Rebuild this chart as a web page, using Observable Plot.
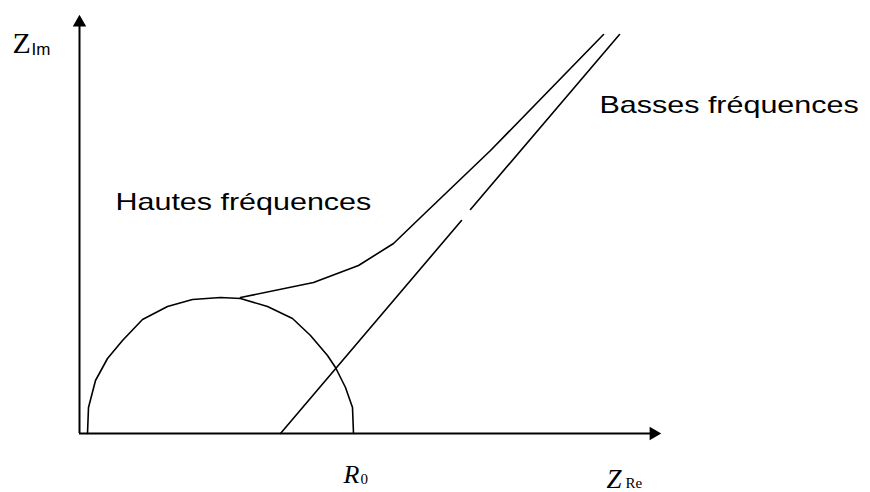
<!DOCTYPE html>
<html>
<head>
<meta charset="utf-8">
<script src="https://cdn.jsdelivr.net/npm/d3@7"></script>
<script src="https://cdn.jsdelivr.net/npm/@observablehq/plot@0.6"></script>
<style>
  html, body { margin: 0; padding: 0; background: #fff; }
  svg { display: block; }
</style>
</head>
<body>
<div id="chart"></div>
<script>
// Semicircle (high-frequency arc), vertices
const semiX = [8, 9, 16, 28, 43, 63, 88, 113, 141, 161, 188, 213, 231, 248, 256, 266, 273, 274];
const semiY = [0, 26, 53, 75, 93, 114, 127, 134, 136, 135, 127, 115, 98, 78, 66, 46, 26, 0];
// Curve leaving the arc toward the low-frequency asymptote
const hfX = [161, 234, 279, 314, 341, 411, 524];
const hfY = [136, 151, 168, 190, 216, 283, 399];
// Straight low-frequency line (with the small break seen in the scan)
const bfX = [201, 382, 391, 540];
const bfY = [0, 213, 224, 399];
const bfSeg = [0, 0, 1, 1];
// Axis extents
const xAxisEnd = 581;
const yAxisEnd = 418;
// Annotations
const bigLabels = ["Hautes fréquences", "Basses fréquences"];
const bigX = [36, 520];
const bigY = [224, 321];

const semi = semiX.map((x, i) => ({x, y: semiY[i]}));
const hf = hfX.map((x, i) => ({x, y: hfY[i]}));
const bf = bfX.map((x, i) => ({x, y: bfY[i], s: bfSeg[i]}));
const big = bigLabels.map((t, i) => ({t, x: bigX[i], y: bigY[i]}));

const sw = 1.6;
const plot = Plot.plot({
  width: 870,
  height: 492,
  marginLeft: 79,
  marginRight: 210,
  marginTop: 15,
  marginBottom: 59,
  x: {domain: [0, xAxisEnd], axis: null},
  y: {domain: [0, yAxisEnd], axis: null},
  style: {background: "#fff", color: "#000", overflow: "visible"},
  marks: [
    // axes
    Plot.ruleY([0], {x1: 0, x2: xAxisEnd - 8, stroke: "#000", strokeWidth: 2}),
    Plot.ruleX([0], {y1: 0, y2: yAxisEnd - 8, stroke: "#000", strokeWidth: 2}),
    Plot.dot([{x: xAxisEnd - 7, y: 0}], {x: "x", y: "y", symbol: "triangle", r: 5, fill: "#000", stroke: null, rotate: 90}),
    Plot.dot([{x: 0, y: yAxisEnd - 7}], {x: "x", y: "y", symbol: "triangle", r: 5, fill: "#000", stroke: null, rotate: 0}),
    // curves
    Plot.line(semi, {x: "x", y: "y", stroke: "#000", strokeWidth: sw, curve: "linear"}),
    Plot.line(hf, {x: "x", y: "y", stroke: "#000", strokeWidth: sw, curve: "linear"}),
    Plot.line(bf, {x: "x", y: "y", z: "s", stroke: "#000", strokeWidth: sw}),
    // region labels
    Plot.text(big, {x: "x", y: "y", text: "t", textAnchor: "start", lineAnchor: "bottom",
      fontSize: 24, fontFamily: "Liberation Sans, Arial, sans-serif", fill: "#000"}),
    // axis labels
    Plot.text(["Z"], {x: -67, y: 381, text: d => d, textAnchor: "start", lineAnchor: "bottom",
      fontSize: 30, fontFamily: "Liberation Serif, Times New Roman, serif", fill: "#000"}),
    Plot.text(["Im"], {x: -48, y: 379, text: d => d, textAnchor: "start", lineAnchor: "bottom",
      fontSize: 17, fontFamily: "Liberation Sans, Arial, sans-serif", fill: "#000"}),
    Plot.text(["R"], {x: 264, y: -49, text: d => d, textAnchor: "start", lineAnchor: "bottom",
      fontSize: 26, fontStyle: "italic", fontFamily: "Liberation Serif, Times New Roman, serif", fill: "#000"}),
    Plot.text(["0"], {x: 281, y: -50, text: d => d, textAnchor: "start", lineAnchor: "bottom",
      fontSize: 15, fontFamily: "Liberation Serif, Times New Roman, serif", fill: "#000"}),
    Plot.text(["Z"], {x: 527, y: -54, text: d => d, textAnchor: "start", lineAnchor: "bottom",
      fontSize: 27, fontStyle: "italic", fontFamily: "Liberation Serif, Times New Roman, serif", fill: "#000"}),
    Plot.text(["Re"], {x: 546, y: -54, text: d => d, textAnchor: "start", lineAnchor: "bottom",
      fontSize: 15, fontFamily: "Liberation Serif, Times New Roman, serif", fill: "#000"})
  ]
});

// The scanned sans labels are horizontally wide: stretch them.
d3.select(plot).selectAll("text").each(function() {
  if (this.textContent.includes("fréquences")) {
    const t = this.getAttribute("transform") || "";
    this.setAttribute("transform", t + " scale(1.27,1)");
  }
});

document.getElementById("chart").appendChild(plot);
</script>
</body>
</html>
